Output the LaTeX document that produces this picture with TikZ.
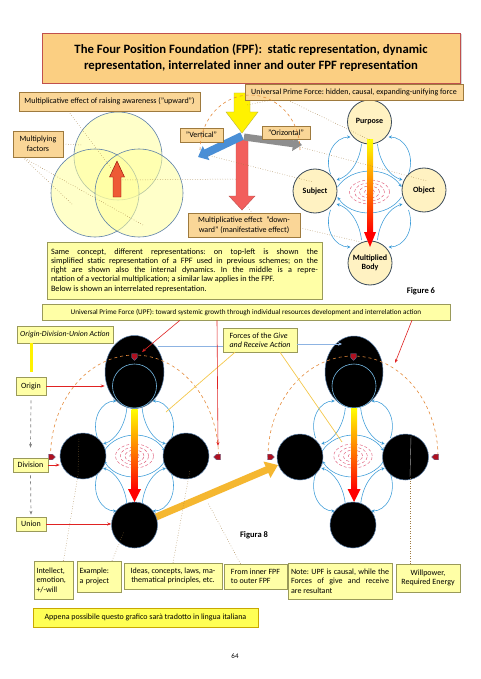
\documentclass[tikz,border=0pt]{standalone}
\usepackage{fontspec}
\setmainfont{Carlito}
\frenchspacing
\usetikzlibrary{arrows.meta,shadows,shapes.geometric}
\definecolor{titlefill}{HTML}{FBCF82}
\definecolor{titledraw}{HTML}{C0504D}
\definecolor{orfill}{HTML}{FAD697}
\definecolor{ordraw}{HTML}{9E7A3E}
\definecolor{yfill}{HTML}{FFFFA6}
\definecolor{ydraw}{HTML}{9A9A5A}
\definecolor{dotc}{HTML}{A07A40}
\definecolor{dynblue}{HTML}{3A9BD8}
\definecolor{pinkc}{HTML}{E05A78}
\definecolor{arcor}{HTML}{E58A3A}
\definecolor{venfill}{HTML}{FFFF9E}
\definecolor{vendraw}{HTML}{5B7FA8}
\definecolor{fpffill}{HTML}{FFF2C2}
\definecolor{fpfdraw}{HTML}{3A4A5A}
\definecolor{bluearr}{HTML}{4A8FD6}
\definecolor{grayarr}{HTML}{8E8E8E}
\definecolor{redarr}{HTML}{F25F5C}
\definecolor{smallred}{HTML}{EE5A35}
\definecolor{bigor}{HTML}{F5B730}
\definecolor{redline}{HTML}{E02222}
\definecolor{markred}{HTML}{B01020}
\definecolor{appfill}{HTML}{FFFF55}
\definecolor{appdraw}{HTML}{C8A800}
\definecolor{yline}{HTML}{F5C84B}
\definecolor{lblue}{HTML}{8DB3E2}
\tikzset{
  obox/.style={draw=ordraw, fill=orfill, line width=0.5pt, inner sep=1.5pt, font=\fontsize{8}{9.5}\selectfont, align=center},
  ybox/.style={draw=ydraw, fill=yfill, line width=0.5pt, inner sep=1.5pt, font=\fontsize{8}{9.5}\selectfont, align=center},
  dotl/.style={dotc, dotted, line width=0.5pt},
  dyn/.style={dynblue, line width=0.55pt, -{Stealth[length=3.4pt,width=3.2pt]}},
  pinkell/.style={pinkc, densely dashed, line width=0.45pt},
  fpfc/.style={circle, draw=fpfdraw, line width=0.8pt, fill=fpffill, minimum size=44pt, inner sep=0pt, font=\fontsize{8}{9}\selectfont\bfseries, align=center},
  blk/.style={circle, draw=vendraw, line width=0.5pt, fill=black, minimum size=46pt, inner sep=0pt},
  venn/.style={circle, draw=vendraw, line width=0.6pt, fill=venfill, fill opacity=0.55, minimum size=88pt, inner sep=0pt},
  redl/.style={redline, line width=0.6pt, -{Stealth[length=4pt,width=3pt]}},
  grayd/.style={gray, dashed, line width=0.7pt, -{Stealth[length=4pt,width=3pt]}},
  orarc/.style={arcor, dashed, line width=0.6pt},
  fpfmk/.style={fill=markred, draw=vendraw, line width=0.3pt},
}
\newcommand{\fpfdyn}{%
  \foreach \sx/\sy in {1/1,-1/1,1/-1,-1/-1}{%
    \begin{scope}[xscale=\sx,yscale=\sy]
      \draw[dyn] (-39,18) .. controls (-46,38) and (-34,55) .. (-19,55);
      \draw[dyn] (-8,48) .. controls (-10,30) and (-20,16) .. (-33,12);
    \end{scope}
  }
  \draw[dyn] (-32,5) .. controls (-18,26) and (18,26) .. (32,5);
  \draw[dyn] (32,-5) .. controls (18,-26) and (-18,-26) .. (-32,-5);
  \foreach \r/\q in {20/12,15/9,10/6,5/3}{\draw[pinkell] (0,0) ellipse[x radius=\r, y radius=\q];}
}
\newcommand{\fpfmark}[3]{\filldraw[fpfmk, shift={(#1,#2)}, rotate=#3] (-3.5,2.8) -- (0.5,2.8) -- (3.5,0) -- (0.5,-2.8) -- (-3.5,-2.8) -- cycle;}
\begin{document}
\begin{tikzpicture}[x=1pt,y=1pt]
\useasboundingbox (0,0) rectangle (480,-679);
\fill[white] (0,0) rectangle (480,-679);

% ---------- title ----------
\node[draw=titledraw, fill=titlefill, line width=0.7pt, minimum width=418pt, minimum height=50pt, align=center,
      font=\fontsize{12.7}{16.5}\selectfont\bfseries,
      drop shadow={shadow xshift=1.5pt, shadow yshift=-1.5pt, opacity=0.3}] (title) at (251,-58)
  {The Four Position Foundation (FPF):\ \ static representation, dynamic\\representation, interrelated inner and outer FPF representation};

% ---------- top-left Venn ----------
\node[venn] (vtop) at (118,-156) {};
\node[venn] (vleft) at (95,-193) {};
\node[venn] (vright) at (139,-193) {};
\filldraw[fill=smallred, draw=red!55!black, line width=0.4pt]
  (113,-197) -- (121,-197) -- (121,-177) -- (124.5,-177) -- (117,-161) -- (109.5,-177) -- (113,-177) -- cycle;
\coordinate (upA) at (114,-172);
\coordinate (upB) at (120,-180);

% ---------- middle arrows ----------
\filldraw[fill=redarr, draw=titledraw, line width=0.4pt]
  (236,-140) -- (248,-140) -- (248,-196) -- (255,-196) -- (242,-210) -- (229,-196) -- (236,-196) -- cycle;
\coordinate (redtip) at (248,-207);
\coordinate (redmid) at (237,-179);
\draw[grayarr, line width=7pt, -{Triangle[length=9pt,width=14pt]}] (244,-137) -- (302,-145);
\draw[bluearr, line width=8pt, -{Triangle[length=9pt,width=15pt]}] (242,-136) -- (198,-157);
\filldraw[fill=yellow, draw=yellow!70!black, line width=0.4pt]
  (234,-93) -- (250,-93) -- (250,-112) -- (258,-112) -- (242,-133) -- (226,-112) -- (234,-112) -- cycle;
\coordinate (graytip) at (300,-147);
\coordinate (bluetip) at (207,-155);
\coordinate (yelarr) at (247,-105);

% ---------- top-right FPF ----------
\begin{scope}[shift={(369.5,-192)}]
  \fpfdyn
\end{scope}
\node[fpfc] (purpose) at (369.5,-122) {Purpose};
\node[fpfc] (subject) at (315,-191) {Subject};
\node[fpfc] (object) at (424,-190) {Object};
\node[fpfc] (body) at (370,-263) {Multiplied\\Body};
\shade[top color=yellow, bottom color=red, middle color=orange] (367,-140) rectangle (373,-233);
\fill[red] (364,-232) -- (376,-232) -- (370,-247) -- cycle;
\coordinate (bartop) at (370,-140);

% ---------- top labels ----------
\node[obox, minimum width=181pt, minimum height=19pt] (aw) at (109.5,-101.5) {Multiplicative effect of raising awareness ("upward")};
\node[obox, minimum width=50pt, minimum height=26pt] (mf) at (38,-144) {Multiplying\\factors};
\node[obox, minimum width=43pt, minimum height=14pt] (vt) at (201.5,-135) {"Vertical"};
\node[obox, minimum width=48pt, minimum height=13pt] (oz) at (286,-133) {"Orizontal"};
\node[obox, minimum width=218pt, minimum height=16pt] (upf) at (354,-92) {Universal Prime Force: hidden, causal, expanding-unifying force};
\node[obox, minimum width=112pt, minimum height=24pt] (md) at (244,-225) {Multiplicative effect\ \ "down-\\ward" (manifestative effect)};
\draw[orarc] (200,-150) arc[start angle=180, end angle=0, x radius=50, y radius=55];

% dotted annotation lines (top)
\draw[dotl] ([xshift=-41pt]aw.south) -- (upA);
\draw[dotl] (mf.east) -- (82,-145);
\draw[dotl] ([xshift=10pt]mf.south west) -- (73,-205);
\draw[dotl] ([xshift=10pt]mf.south west) -- (143,-225);
\draw[dotl] (upB) -- (redmid);
\draw[dotl] ([xshift=-66pt]upf.south) -- (bartop);
\draw[dotl] ([xshift=-84pt]upf.south) -- (yelarr);
\draw[dotl] (graytip) -- (427,-181);
\draw[dotl] (bluetip) -- (313,-182);
\draw[dotl] ([yshift=-3pt]md.east) -- (body.112);
\draw[dotl] (redtip) -- ([xshift=8pt]md.north);

% explanatory box
\node[ybox, font=\fontsize{8.2}{9.3}\selectfont, text width=267pt, inner xsep=4pt, align=justify, minimum height=57pt] (sc) at (184.5,-270.5)
  {Same concept, different representations: on top-left is shown the\linebreak
   simplified static representation of a FPF used in previous schemes; on the\linebreak
   right are shown also the internal dynamics. In the middle is a repre-\linebreak
   ntation of a vectorial multiplication; a similar law applies in the FPF.\\
   Below is shown an interrelated representation.};
\node[font=\fontsize{8.5}{10}\selectfont\bfseries] (fig6) at (421,-291) {Figure 6};

% ---------- bottom section ----------
\node[ybox, font=\fontsize{7.2}{8.5}\selectfont, minimum width=408pt, minimum height=16pt] (upfb) at (246,-312)
  {Universal Prime Force (UPF): toward systemic growth through individual resources development and interrelation action};

\begin{scope}[shift={(134.5,-456)}, xscale=0.95]
  \fpfdyn
\end{scope}
\begin{scope}[shift={(353,-456)}, xscale=0.96]
  \fpfdyn
\end{scope}

\draw[bigor, line width=7pt, -{Triangle[length=12pt,width=17pt]}] (156,-517) -- (278,-465);

\node[ellipse, fill=black, draw=vendraw, line width=0.5pt, minimum width=59pt, minimum height=73pt, inner sep=0pt] (lt) at (134.5,-372) {};
\node[circle, draw=dynblue!70, line width=0.6pt, minimum size=44pt, inner sep=0pt] (li) at (134.5,-386) {};
\node[blk] (ll) at (83,-456) {};
\node[blk] (lr) at (186,-456) {};
\node[blk] (lb) at (134.5,-525) {};

\node[ellipse, fill=black, draw=vendraw, line width=0.5pt, minimum width=58pt, minimum height=72pt, inner sep=0pt] (rt) at (354,-372) {};
\node[circle, draw=dynblue!70, line width=0.6pt, minimum size=44pt, inner sep=0pt] (ri) at (354,-386) {};
\node[blk] (rl) at (300,-457) {};
\node[blk] (rr) at (405.5,-457) {};
\node[blk] (rb) at (353,-525) {};

\shade[top color=yellow, bottom color=red, middle color=orange] (131.5,-409) rectangle (137.5,-490);
\fill[red] (128,-489) -- (141,-489) -- (134.5,-502) -- cycle;
\shade[top color=yellow, bottom color=red, middle color=orange] (351,-408) rectangle (357,-490);
\fill[red] (347.5,-489) -- (360.5,-489) -- (354,-502) -- cycle;

\draw[orarc] (50.5,-457) arc[start angle=180, end angle=0, x radius=84, y radius=102];
\draw[orarc] (268,-457) arc[start angle=180, end angle=0, x radius=85, y radius=101];
\fpfmark{52}{-457}{0}
\fpfmark{217}{-457}{180}
\fpfmark{134.5}{-357}{-90}
\fpfmark{271}{-457}{0}
\fpfmark{435}{-457}{180}
\fpfmark{353.5}{-357}{-90}

\node[ybox, minimum width=96pt, minimum height=17pt, font=\fontsize{7.8}{9}\selectfont\itshape] (odu) at (65,-334.5) {Origin-Division-Union Action};
\node[ybox, minimum width=30pt, minimum height=18pt] (orig) at (31,-386) {Origin};
\node[ybox, minimum width=35pt, minimum height=14pt] (div) at (30.5,-465) {Division};
\node[ybox, minimum width=30pt, minimum height=14pt] (uni) at (31,-524) {Union};
\draw[yellow, line width=3pt] (odu.south -| orig.north) -- ([yshift=5pt]orig.north);
\draw[grayd] ([yshift=-5pt]orig.south) -- ([yshift=10pt]div.north);
\draw[grayd] ([yshift=-3pt]div.south) -- ([yshift=2pt]uni.north);
\draw[redl] (orig.east) -- (orig.east -| lt.west);
\draw[redl] (div.east) -- (div.east -| ll.west);
\draw[redl] (uni.east) -- (uni.east -| lb.west);

\node[ybox, minimum width=74pt, minimum height=24pt, align=left] (fg) at (260,-340) {Forces of the \textit{Give}\\\textit{and Receive Action}};
\draw[lblue, line width=0.6pt] ([yshift=-6pt]fg.west) -- (158,-346);
\draw[lblue, line width=0.6pt, -{Stealth[length=4pt,width=3.5pt]}] ([yshift=-4pt]fg.east) -- (342,-344);
\draw[yline, line width=0.7pt] ([xshift=-25pt]fg.south) -- (166,-412);
\draw[yline, line width=0.7pt] ([xshift=20pt]fg.south) -- (342,-442);
\draw[redl] ([xshift=-66pt]upfb.south) -- (142,-352);
\draw[redl] ([xshift=-29pt]upfb.south) -- (218,-446);
\draw[redl] ([xshift=166pt]upfb.south) -- (395,-363);

\node[font=\fontsize{8.5}{10}\selectfont\bfseries] (fig8) at (254,-535) {Figura 8};

\node[ybox, text width=34pt, inner xsep=2.5pt, align=left, minimum height=38pt] (int) at (53.5,-580) {Intellect,\\emotion,\\+/-will};
\node[ybox, text width=39pt, inner xsep=2.5pt, align=left, minimum height=31pt] (ex) at (99,-576.5) {Example:\\a project};
\node[ybox, minimum width=98pt, minimum height=26pt] (ideas) at (173,-576) {Ideas, concepts, laws, ma-\\thematical principles, etc.};
\node[ybox, minimum width=63pt, minimum height=25pt, align=left] (fr) at (255.5,-576.5) {From inner FPF\\to outer FPF};
\node[ybox, text width=98pt, inner xsep=3pt, align=justify, minimum height=36pt] (note) at (340,-581)
  {Note: UPF is causal, while the\linebreak Forces of give and receive\linebreak are resultant};
\node[ybox, minimum width=64pt, minimum height=28pt] (wp) at (428,-578) {Willpower,\\Required Energy};
\node[ybox, fill=appfill, draw=appdraw, minimum width=225pt, minimum height=19pt] (app) at (145.5,-617.5)
  {Appena possibile questo grafico sarà tradotto in lingua italiana};

\draw[dotl] ([xshift=10pt]int.north) -- (78,-475) -- (79,-437);
\draw[dotl] ([xshift=13pt]ex.north) -- (124,-532);
\draw[dotl] (ideas.north) -- (190,-470);
\draw[dotl] ([xshift=-15pt]fr.north) -- (208,-503);
\draw[dotl] ([xshift=-18pt]wp.north) -- (410,-477);
\draw[gray!70, line width=0.4pt] (410,-477) -- (411,-436);

\node[font=\fontsize{7}{8}\selectfont] (pg) at (235,-656) {64};
\end{tikzpicture}
\end{document}
